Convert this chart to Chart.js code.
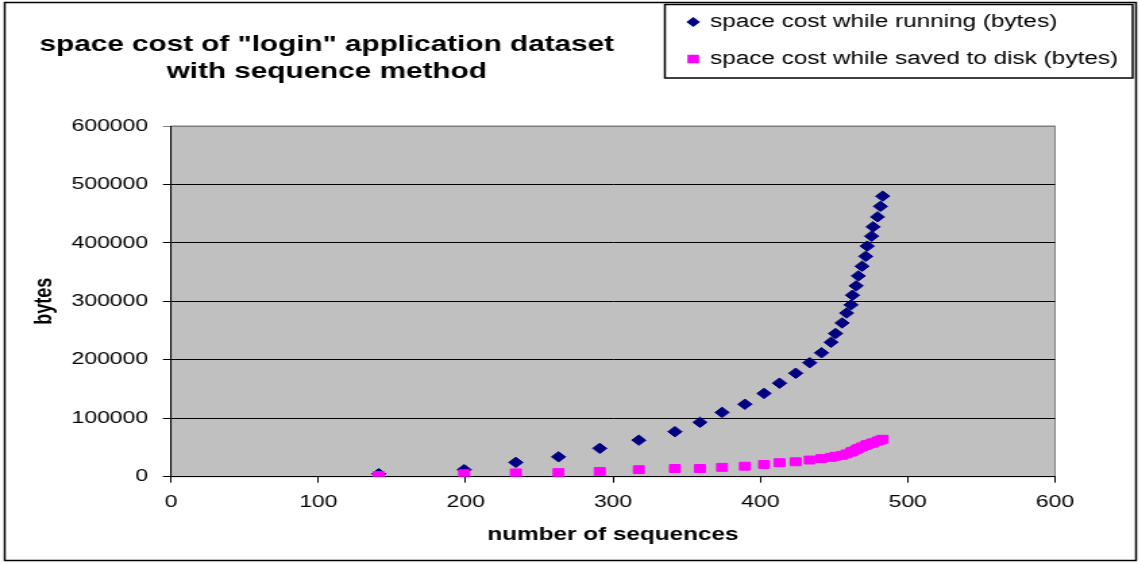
<!DOCTYPE html>
<html>
<head>
<meta charset="utf-8">
<script src="https://cdn.jsdelivr.net/npm/chart.js@4.4.1/dist/chart.umd.min.js"></script>
<style>
html, body { margin: 0; padding: 0; background: #fff; overflow: hidden; }
/* the original picture is stretched sideways, so draw narrow and widen */
#wrap { width: 844px; height: 564px; transform: scaleX(1.35); transform-origin: 0 0; }
canvas { display: block; }
</style>
</head>
<body>
<div id="wrap"><canvas id="chart" width="844" height="564"></canvas></div>
<script>
var sequenceCounts = [141, 199, 234, 263, 291, 317.5, 342, 359, 374, 389.5, 402.5, 413, 424, 433.5, 441.5, 448, 451, 455.5, 458.5, 461.5, 462.5, 465, 466.5, 469, 471.5, 472.5, 475.5, 476.5, 479.5, 481.5, 483];
var runningBytes = [5000, 12000, 24500, 34000, 48500, 62500, 77000, 93000, 110000, 124000, 142500, 160000, 177000, 195000, 212000, 230000, 245000, 263000, 280000, 294000, 310500, 326500, 343500, 360000, 377000, 394500, 411500, 427500, 444500, 462500, 480000];
var diskBytes = [2000, 5000, 6500, 7000, 9000, 12000, 14000, 14000, 16000, 18000, 21000, 24000, 25500, 28500, 31000, 33000, 35000, 36500, 39000, 42000, 43500, 46000, 48500, 51000, 53500, 55000, 57000, 58000, 61000, 62500, 64000];
var seriesNames = ['space cost while running (bytes)', 'space cost while saved to disk (bytes)'];
var titleLines = ['space cost of "login" application dataset', 'with sequence method'];
var xTickLabels = ['0', '100', '200', '300', '400', '500', '600'];
var yTickLabels = ['0', '100000', '200000', '300000', '400000', '500000', '600000'];

var FONT = '"Liberation Sans", Arial, sans-serif';

function toPoints(xs, ys) {
	var pts = [];
	for (var i = 0; i < xs.length; i++) {
		pts.push({x: xs[i], y: ys[i]});
	}
	return pts;
}

// grey plot area, outer frame, title and boxed legend like the excel chart
var framePlugin = {
	id: 'frame',
	beforeDraw: function(chart) {
		var ctx = chart.ctx, a = chart.chartArea;
		ctx.save();
		ctx.fillStyle = '#fff';
		ctx.fillRect(0, 0, chart.width, chart.height);
		ctx.fillStyle = '#c0c0c0';
		ctx.fillRect(a.left, a.top, a.right - a.left, a.bottom - a.top);
		ctx.strokeStyle = '#808080';
		ctx.lineWidth = 1;
		ctx.strokeRect(a.left, a.top, a.right - a.left, a.bottom - a.top);
		ctx.restore();
	},
	afterDraw: function(chart) {
		var ctx = chart.ctx;
		ctx.save();
		ctx.strokeStyle = '#000';
		ctx.lineWidth = 1.5;
		ctx.strokeRect(3.5, 2.5, 838, 558);

		// title
		ctx.fillStyle = '#000';
		ctx.font = 'bold 22px ' + FONT;
		ctx.textAlign = 'center';
		ctx.textBaseline = 'middle';
		ctx.fillText(titleLines[0], 242, 45);
		ctx.fillText(titleLines[1], 242, 72);

		// legend
		ctx.fillStyle = '#fff';
		ctx.fillRect(492.5, 4.5, 346.5, 73.5);
		ctx.strokeStyle = '#000';
		ctx.lineWidth = 1.5;
		ctx.strokeRect(492.5, 4.5, 346.5, 73.5);
		var rows = [22, 59];
		chart.data.datasets.forEach(function(ds, i) {
			ctx.fillStyle = ds.backgroundColor;
			ctx.strokeStyle = ds.borderColor;
			Chart.helpers.drawPoint(ctx, {
				pointStyle: ds.pointStyle,
				radius: ds.pointStyle === 'rectRot' ? 4 : 5,
				borderWidth: 1,
				rotation: 0
			}, 513.5, rows[i]);
			ctx.fillStyle = '#000';
			ctx.font = '18px ' + FONT;
			ctx.textAlign = 'left';
			ctx.textBaseline = 'middle';
			ctx.fillText(ds.label, 526, rows[i]);
		});
		ctx.restore();
	}
};

var ctx = document.getElementById('chart').getContext('2d');
var chart = new Chart(ctx, {
	type: 'scatter',
	data: {
		datasets: [{
			label: seriesNames[0],
			data: toPoints(sequenceCounts, runningBytes),
			pointStyle: 'rectRot',
			pointRadius: 5.2,
			borderWidth: 1,
			backgroundColor: '#000080',
			borderColor: '#000080',
			order: 1
		}, {
			label: seriesNames[1],
			data: toPoints(sequenceCounts, diskBytes),
			pointStyle: 'rect',
			pointRadius: 5.6,
			borderWidth: 1,
			backgroundColor: '#ff00ff',
			borderColor: '#ff00ff',
			order: 0
		}]
	},
	options: {
		responsive: false,
		animation: false,
		events: [],
		layout: {padding: {left: 10, right: 62.5, top: 126, bottom: 10}},
		plugins: {
			legend: {display: false},
			title: {display: false},
			tooltip: {enabled: false}
		},
		scales: {
			x: {
				type: 'linear',
				min: 0,
				max: 600,
				afterFit: function(scale) { scale.height = 77.3; },
				ticks: {
					stepSize: 100,
					padding: 9,
					color: '#000',
					font: {family: FONT, size: 17},
					maxRotation: 0,
					callback: function(v, i) { return xTickLabels[i]; }
				},
				grid: {drawOnChartArea: false, tickLength: 6, color: '#000', lineWidth: 1},
				border: {color: '#000', width: 1},
				title: {
					display: true,
					text: 'number of sequences',
					color: '#000',
					font: {family: FONT, size: 18, weight: 'bold'},
					padding: {top: 0, bottom: 8}
				}
			},
			y: {
				min: 0,
				max: 600000,
				afterFit: function(scale) { scale.width = 116.7; },
				ticks: {
					stepSize: 100000,
					padding: 11,
					color: '#000',
					font: {family: FONT, size: 17},
					callback: function(v, i) { return yTickLabels[i]; }
				},
				grid: {
					tickLength: 6,
					lineWidth: 1,
					color: function(c) { return c.tick && c.tick.value === 600000 ? '#808080' : '#000'; }
				},
				border: {color: '#000', width: 1},
				title: {
					display: true,
					text: 'bytes',
					color: '#000',
					font: {family: FONT, size: 18, weight: 'bold'},
					padding: {top: 12, bottom: 0}
				}
			}
		}
	},
	plugins: [framePlugin]
});
</script>
</body>
</html>
